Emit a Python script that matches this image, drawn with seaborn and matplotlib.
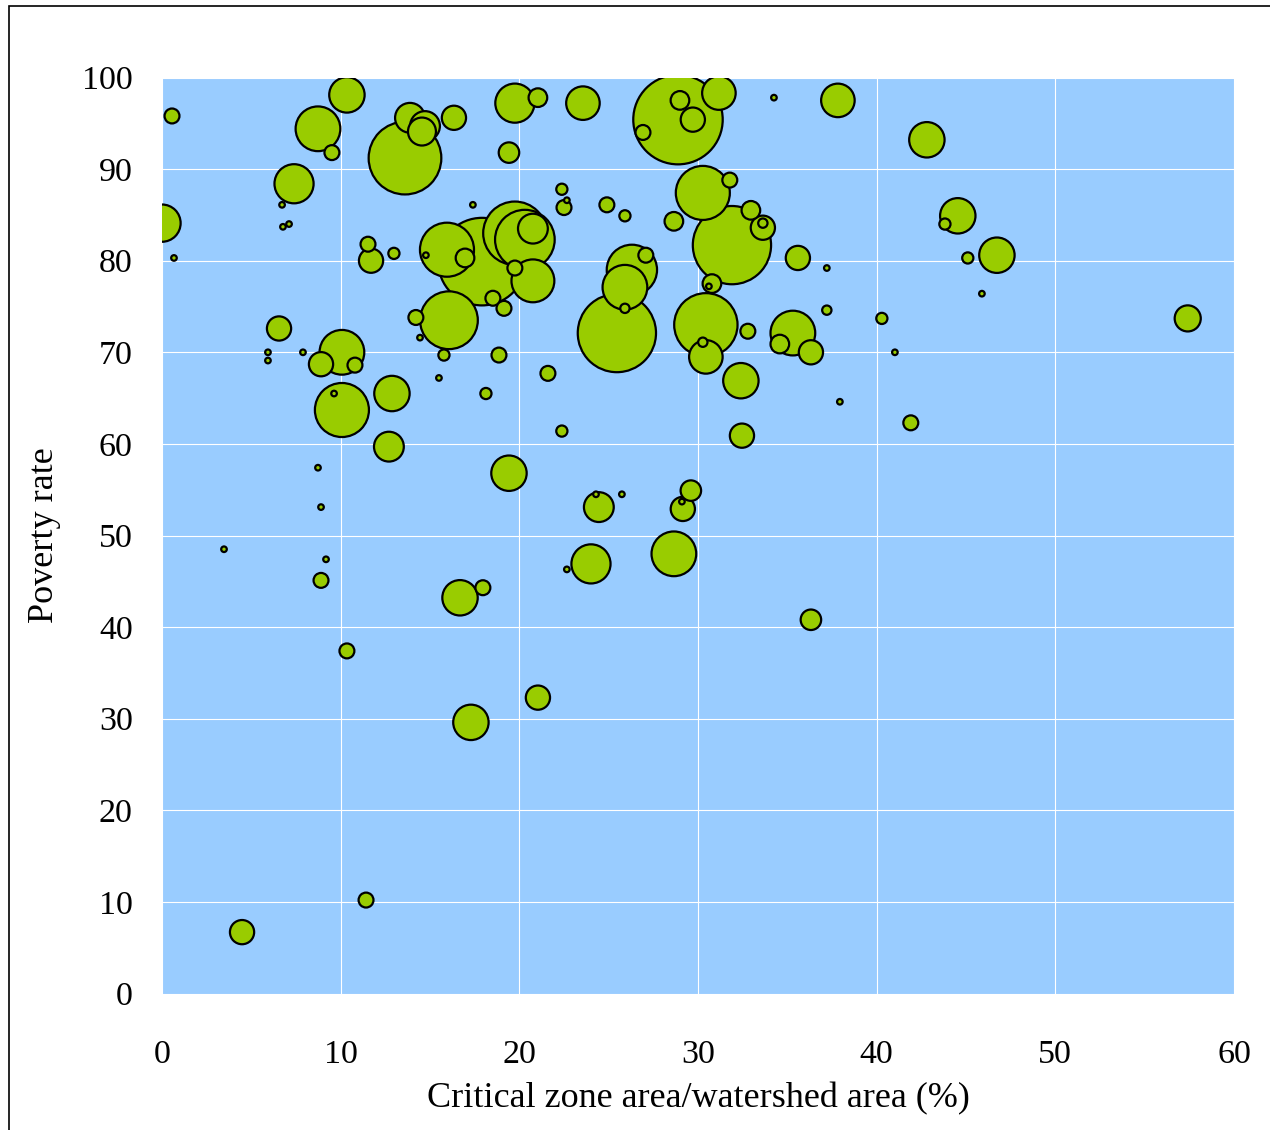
import seaborn as sns
import pandas as pd
import matplotlib.pyplot as plt
from matplotlib.patches import Rectangle

# critical zone share (%), poverty rate, bubble weight
crit_share = [0.56, 10.35, 8.73, 9.51, 13.6, 13.88, 14.72, 14.55, 16.34, 19.75,
              21.04, 19.42, 7.39, 6.72, 6.77, 7.11, 0.0, 0.67, 17.4, 11.53,
              11.7, 12.98, 15.95, 16.96, 14.77, 17.91, 19.75, 20.31, 20.76, 20.76,
              19.75, 18.52, 19.14, 16.06, 14.21, 14.44, 15.78, 18.86, 6.55, 5.93,
              5.93, 7.89, 10.07, 8.9, 10.8, 10.07, 9.63, 12.87, 12.7, 8.73,
              8.9, 3.47, 9.18, 8.9, 16.68, 17.96, 19.42, 15.5, 18.13, 21.6,
              23.56, 28.88, 28.99, 29.71, 26.92, 31.17, 34.25, 37.83, 30.27, 31.78,
              22.38, 22.5, 22.66, 24.9, 25.91, 28.65, 31.9, 32.96, 33.63, 33.63,
              35.59, 37.21, 26.3, 27.08, 25.91, 25.91, 25.46, 30.44, 30.44, 30.27,
              32.79, 30.78, 30.61, 35.31, 34.58, 36.32, 37.21, 42.81, 44.54, 43.82,
              46.73, 45.1, 45.89, 40.29, 41.02, 37.94, 41.91, 36.32, 57.41, 24.45,
              24.29, 25.74, 29.6, 29.15, 29.1, 28.65, 24.01, 22.66, 22.38, 32.46,
              32.4, 10.35, 17.29, 21.04, 11.42, 4.48]
poverty = [95.8, 98.1, 94.4, 91.8, 91.2, 95.6, 94.7, 94.1, 95.6, 97.2,
           97.8, 91.8, 88.4, 86.1, 83.7, 84.0, 84.1, 80.3, 86.1, 81.8,
           80.0, 80.8, 81.2, 80.3, 80.6, 79.9, 83.0, 82.3, 83.5, 77.8,
           79.2, 75.9, 74.8, 73.5, 73.8, 71.6, 69.7, 69.7, 72.6, 70.0,
           69.1, 70.0, 70.0, 68.7, 68.6, 63.7, 65.5, 65.5, 59.7, 57.4,
           53.1, 48.5, 47.4, 45.1, 43.2, 44.3, 56.8, 67.2, 65.5, 67.7,
           97.2, 95.4, 97.5, 95.4, 94.0, 98.3, 97.8, 97.5, 87.4, 88.8,
           87.8, 85.8, 86.6, 86.1, 84.9, 84.3, 81.7, 85.5, 83.6, 84.1,
           80.3, 79.2, 79.0, 80.6, 77.1, 74.8, 72.1, 73.0, 69.5, 71.1,
           72.3, 77.5, 77.2, 72.1, 70.9, 70.0, 74.6, 93.2, 84.9, 84.0,
           80.6, 80.3, 76.4, 73.7, 70.0, 64.6, 62.3, 40.8, 73.7, 53.1,
           54.5, 54.5, 54.9, 52.9, 53.7, 48.0, 46.9, 46.3, 61.4, 60.9,
           66.9, 37.4, 29.6, 32.3, 10.2, 6.7]
weight = [64, 361, 576, 64, 1521, 256, 256, 225, 169, 441,
          100, 121, 441, 9, 9, 9, 400, 9, 9, 64,
          169, 36, 841, 100, 9, 2209, 1156, 1024, 256, 529,
          64, 64, 64, 961, 64, 9, 36, 64, 169, 9,
          9, 9, 576, 169, 64, 841, 9, 361, 256, 9,
          9, 9, 9, 64, 361, 64, 361, 9, 36, 64,
          324, 2304, 100, 169, 64, 324, 9, 324, 841, 64,
          36, 64, 9, 64, 36, 100, 1764, 100, 169, 25,
          169, 9, 729, 64, 576, 25, 1764, 1156, 324, 25,
          64, 100, 9, 576, 100, 169, 25, 361, 361, 36,
          361, 36, 9, 36, 9, 9, 64, 121, 196, 256,
          9, 9, 121, 169, 9, 576, 441, 9, 36, 169,
          361, 64, 361, 169, 64, 169]

df = pd.DataFrame({'crit': crit_share, 'pov': poverty, 'w': weight})
# big bubbles first so small ones sit on top
df = df.sort_values('w', ascending=False, kind='stable')

plt.rcParams['font.family'] = ['Liberation Serif', 'DejaVu Serif']

fig = plt.figure(figsize=(12.7, 11.3), dpi=100)
ax = fig.add_axes([162 / 1270, 1 - 993.5 / 1130, 1072 / 1270, 916 / 1130])
ax.set_facecolor('#99CCFF')

wmax = df['w'].max()
k = 1.8
sns.scatterplot(data=df, x='crit', y='pov', size='w', sizes=(0, k * wmax),
                size_norm=(0, wmax), color='#99CC00', edgecolor='black',
                linewidth=1.6, alpha=1, legend=False, ax=ax, zorder=3)

ax.set_xlim(0, 60)
ax.set_ylim(0, 100)
ax.set_xticks(range(0, 61, 10))
ax.set_yticks(range(0, 101, 10))
ax.grid(True, color='white', linewidth=0.8, zorder=1)
ax.set_axisbelow(True)
for s in ax.spines.values():
    s.set_visible(False)
ax.tick_params(length=0, labelsize=24.5)
ax.tick_params(axis='x', pad=33)
ax.tick_params(axis='y', pad=21)

ax.set_xlabel('Critical zone area/watershed area (%)', fontsize=26)
ax.set_ylabel('Poverty rate', fontsize=26)
ax.xaxis.set_label_coords(0.5, -0.097)
ax.yaxis.set_label_coords(-0.094, 0.5)

fig.patches.append(Rectangle((9 / 1270, -0.1), 1.2, 1.1 - 6 / 1130,
                             transform=fig.transFigure, fill=False,
                             edgecolor='black', linewidth=1.2))

plt.savefig('out.png', dpi=100)
